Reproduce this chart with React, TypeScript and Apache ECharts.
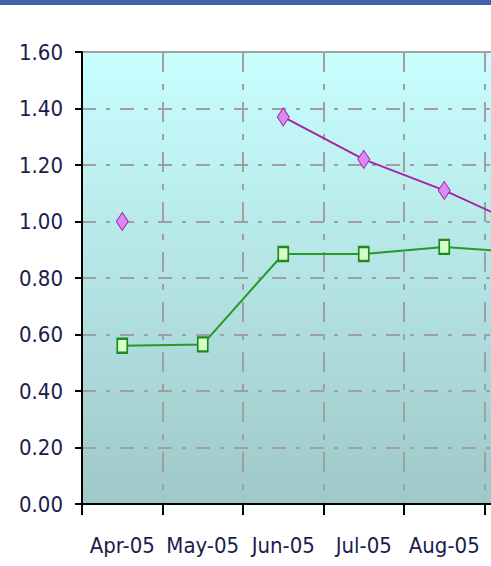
import React, { useEffect, useRef } from "react";
import * as echarts from "echarts";

const categories = ["Apr-05", "May-05", "Jun-05", "Jul-05", "Aug-05", "Sep-05"];
const purpleValues: (number | null)[] = [1.0, null, 1.37, 1.22, 1.11, 0.98];
const greenValues: number[] = [0.56, 0.565, 0.885, 0.885, 0.91, 0.89];
const yTicks = { min: 0, max: 1.6, interval: 0.2 };
const visibleLabelCount = 5;

const FONT = "'Liberation Sans Narrow', 'DejaVu Sans Condensed', 'Arial Narrow', Arial, sans-serif";

export default function App() {
  const ref = useRef<HTMLDivElement>(null);
  useEffect(() => {
    if (!ref.current) return;
    const chart = echarts.init(ref.current, undefined, { renderer: "svg" });
    chart.setOption({
      animation: false,
      backgroundColor: "#ffffff",
      graphic: [
        {
          type: "rect",
          left: 0,
          top: 0,
          shape: { width: 600, height: 5 },
          style: { fill: "#4262ae" },
          z: 100,
        },
      ],
      grid: {
        left: 82,
        top: 52,
        width: 483,
        height: 452,
        show: true,
        borderColor: "#a4a4a4",
        borderWidth: 2,
        backgroundColor: new echarts.graphic.LinearGradient(0, 0, 0, 1, [
          { offset: 0, color: "#c9ffff" },
          { offset: 1, color: "#9fc8c8" },
        ]),
      },
      xAxis: {
        type: "category",
        data: categories,
        boundaryGap: true,
        axisLine: { show: true, lineStyle: { color: "#000000", width: 2 } },
        axisTick: { show: true, interval: 0, length: 11, lineStyle: { color: "#000000", width: 2 } },
        axisLabel: {
          interval: (index: number) => index < visibleLabelCount,
          margin: 30,
          color: "#1c1c4c",
          fontSize: 22,
          fontFamily: FONT,
        },
        splitLine: {
          show: true,
          interval: 0,
          lineStyle: { color: "#a0a0a0", width: 2, type: [20, 12, 6, 12] },
        },
      },
      yAxis: {
        type: "value",
        min: yTicks.min,
        max: yTicks.max,
        interval: yTicks.interval,
        axisLine: { show: true, lineStyle: { color: "#000000", width: 2 } },
        axisTick: { show: true, length: 7, lineStyle: { color: "#000000", width: 2 } },
        axisLabel: {
          margin: 19,
          color: "#1c1c4c",
          fontSize: 22,
          fontFamily: FONT,
          formatter: (v: number) => v.toFixed(2),
        },
        splitLine: {
          show: true,
          lineStyle: { color: "#a0a0a0", width: 2, type: [14, 10, 4, 10] },
        },
      },
      series: [
        {
          type: "line",
          data: purpleValues,
          connectNulls: false,
          symbol: "diamond",
          symbolSize: [12, 18],
          showAllSymbol: true,
          lineStyle: { color: "#a424a4", width: 2 },
          itemStyle: { color: "#d98af5", borderColor: "#a424a4", borderWidth: 1 },
          z: 3,
        },
        {
          type: "line",
          data: greenValues,
          symbol: "rect",
          symbolSize: [10, 14],
          showAllSymbol: true,
          lineStyle: { color: "#259a25", width: 2 },
          itemStyle: { color: "#d8ffc8", borderColor: "#1e8a1e", borderWidth: 2 },
          z: 3,
        },
      ],
    });
    return () => chart.dispose();
  }, []);
  return (
    <div
      style={{
        position: "fixed",
        left: 0,
        top: 0,
        width: 491,
        height: 566,
        overflow: "hidden",
        background: "#ffffff",
      }}
    >
      <div ref={ref} style={{ width: 570, height: 566 }} />
    </div>
  );
}
